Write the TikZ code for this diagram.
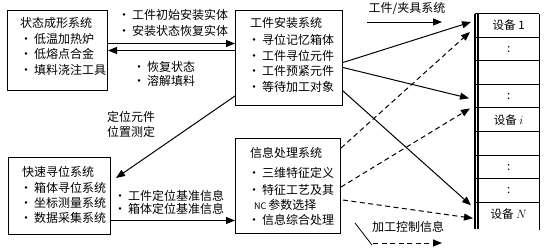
\documentclass[tikz,border=0pt]{standalone}
\usepackage{fontspec}
\setmainfont{Noto Sans CJK SC}
\usetikzlibrary{arrows.meta}
\begin{document}
\begin{tikzpicture}[x=1pt,y=-1pt,
  box/.style={draw, line width=1pt, anchor=north west, inner sep=0pt},
  txt/.style={anchor=west, inner sep=0pt, font=\fontsize{12}{14}\selectfont},
  ctxt/.style={anchor=center, inner sep=0pt, font=\fontsize{12}{14}\selectfont},
  cell/.style={minimum width=61pt, minimum height=23.6pt, inner sep=0pt, anchor=north west, font=\fontsize{11.5}{13}\selectfont},
  arr/.style={-{Triangle[length=9pt,width=7pt]}, line width=1pt},
  darr/.style={arr, dash pattern=on 5pt off 3.5pt},
  rule/.style={line width=0.9pt}
]
\useasboundingbox (0,0) rectangle (547,249);

% boxes
\node[box, minimum width=100pt, minimum height=80pt] (s1) at (7,10) {};
\node[box, minimum width=107pt, minimum height=95pt] (s2) at (235,10) {};
\node[box, minimum width=102pt, minimum height=77pt] (s3) at (8,157) {};
\node[box, minimum width=105pt, minimum height=95pt] (s4) at (235,138) {};

% box texts
\node[txt] (s1a) at (20,23) {状态成形系统};
\node[txt] (s1b) at (20,38.5) {·\,低温加热炉};
\node[txt] (s1c) at (20,54) {·\,低熔点合金};
\node[txt] (s1d) at (20,69.5) {·\,填料浇注工具};

\node[txt] (s2a) at (250,23) {工件安装系统};
\node[txt] (s2b) at (248,39.5) {·\,寻位记忆箱体};
\node[txt] (s2c) at (248,55.5) {·\,工件寻位元件};
\node[txt] (s2d) at (248,71) {·\,工件预紧元件};
\node[txt] (s2e) at (248,87) {·\,等待加工对象};

\node[txt] (s3a) at (22,172) {快速寻位系统};
\node[txt] (s3b) at (20,188) {·\,箱体寻位系统};
\node[txt] (s3c) at (20,203) {·\,坐标测量系统};
\node[txt] (s3d) at (20,218) {·\,数据采集系统};

\node[txt] (s4a) at (250,153) {信息处理系统};
\node[txt] (s4b) at (248,173) {·\,三维特征定义};
\node[txt] (s4c) at (248,189.5) {·\,特征工艺及其};
\node[txt] (s4d) at (254,205) {{\fontsize{9}{10}\selectfont NC}\,参数选择};
\node[txt] (s4e) at (248,220) {·\,信息综合处理};

% connector labels
\node[txt] (l1) at (118,15) {·\,工件初始安装实体};
\node[txt] (l2) at (118,31) {·\,安装状态恢复实体};
\node[txt] (l3) at (133,67) {·\,恢复状态};
\node[txt] (l4) at (133,81) {·\,溶解填料};
\node[ctxt] (l5) at (131,117) {定位元件};
\node[ctxt] (l6) at (131,132) {位置测定};
\node[txt] (l7) at (114,196) {·\,工件定位基准信息};
\node[txt] (l8) at (114,208.5) {·\,箱体定位基准信息};

% device column
\node[cell] (d1) at (478,13.5) {设备 1};
\node[cell] (d2) at (478,37.1) {:};
\node[cell] (d3) at (478,60.7) {};
\node[cell] (d4) at (478,84.3) {:};
\node[cell] (d5) at (478,107.9) {设备 $i$};
\node[cell] (d6) at (478,131.5) {};
\node[cell] (d7) at (478,155.1) {:};
\node[cell] (d8) at (478,178.7) {:};
\node[cell] (d9) at (478,202.3) {设备 $N$};
\foreach \k in {1,...,9} {
  \draw[rule] ([xshift=-3pt]d\k.north west) -- (d\k.north east);
}
\draw[line width=1.1pt] ([xshift=-3pt]d1.north west) -- ([xshift=-3pt,yshift=-3pt]d9.south west);
\draw[line width=1.1pt] (d1.north west) -- ([yshift=-3pt]d9.south west);
\draw[line width=1.4pt] (d1.north east) -- ([yshift=-4pt]d9.south east);

% connectors between boxes
\draw[arr] ([yshift=7pt]s1.east) -- ([yshift=14.5pt]s2.west);
\draw[arr] ([yshift=7.5pt]s2.west) -- (s1.east);
\draw[arr] ([yshift=10pt]s2.south west) -- ([xshift=5pt,yshift=-21pt]s3.north east);
\draw[arr] ([yshift=-24.5pt]s3.east) -- ([yshift=-34.5pt]s4.west);

% to devices (solid)
\draw[arr] ([yshift=-4.5pt]s2.east) -- ([xshift=-7pt,yshift=-8.5pt]d1.north west);
\draw[arr] ([yshift=-9.5pt]s2.east) -- ([xshift=-9pt,yshift=-14pt]d4.north west);
\draw[arr] ([yshift=15pt]s2.south east) -- ([xshift=-7pt,yshift=-3pt]d9.north west);

% to devices (dashed)
\draw[darr] ([yshift=-10pt]s4.north east) -- ([xshift=-8pt,yshift=-18.5pt]d1.north west);
\draw[darr] ([yshift=-49pt]s4.north east) -- ([xshift=-8pt,yshift=-0.5pt]d5.north west);
\draw[darr] ([xshift=2pt,yshift=-62pt]s4.north east) -- ([xshift=-5pt,yshift=-16pt]d9.north west);

% legend
\node[ctxt] (lg1) at (407,9) {工件/夹具系统};
\coordinate (lg1a) at (367,22);
\coordinate (lg1b) at (442,22);
\draw[arr] (lg1a) -- (lg1b);
\node[ctxt] (lg2) at (408,227) {加工控制信息};
\coordinate (lg2a) at (373,243);
\coordinate (lg2b) at (442,243);
\draw[darr] (lg2a) -- (lg2b);
\coordinate (tk1) at (355,223);
\coordinate (tk2) at (372,245);
\draw[line width=0.8pt] (tk1) -- (tk2);
\end{tikzpicture}
\end{document}
